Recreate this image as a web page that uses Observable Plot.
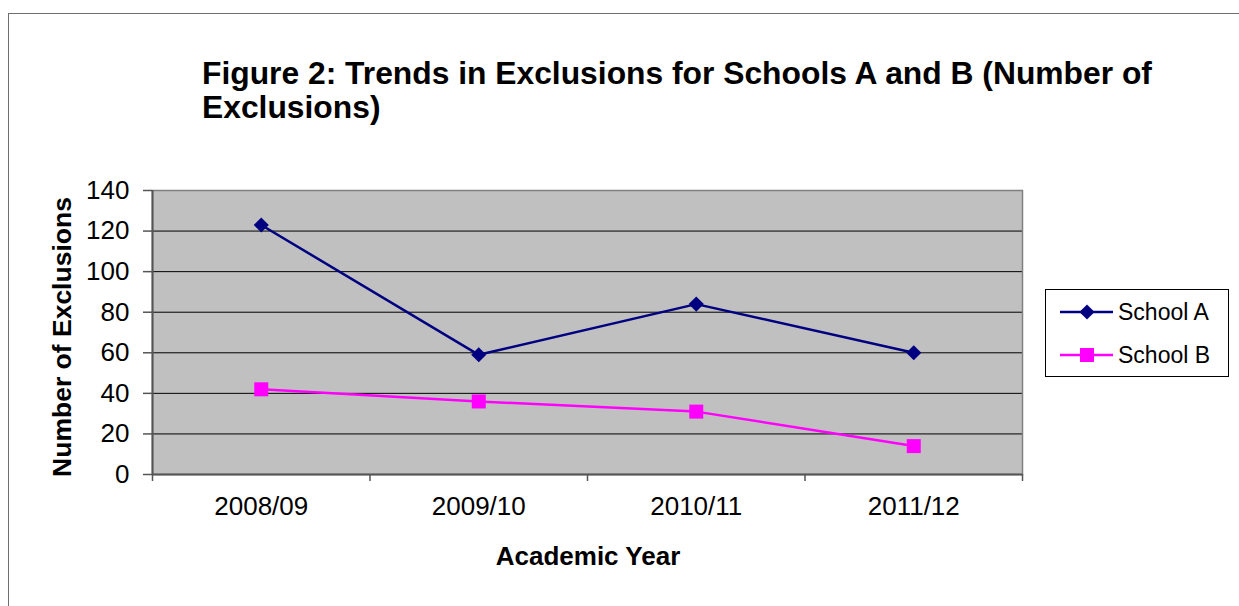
<!DOCTYPE html>
<html>
<head>
<meta charset="utf-8">
<script src="https://cdn.jsdelivr.net/npm/d3@7"></script>
<script src="https://cdn.jsdelivr.net/npm/@observablehq/plot@0.6"></script>
<style>
  html, body { margin:0; padding:0; background:#fff; overflow:hidden; width:1239px; height:606px; }
  body { position:relative; font-family:"Liberation Sans", Arial, sans-serif; color:#000; }
  #border { position:absolute; left:8px; top:13px; width:1400px; height:800px; border:1.5px solid #6e6e6e; box-sizing:border-box; }
  #chart { position:absolute; left:0; top:0; }
  #title { position:absolute; left:202px; top:56px; font-weight:bold; font-size:31.8px; line-height:34px; white-space:nowrap; }
  #ytitle { position:absolute; left:-88.5px; top:324px; width:300px; height:26px; line-height:26px; text-align:center; font-weight:bold; font-size:26.5px; white-space:nowrap; transform:rotate(-90deg); }
  #xtitle { position:absolute; left:388px; top:543px; width:400px; line-height:26px; text-align:center; font-weight:bold; font-size:26px; white-space:nowrap; }
  #legend { position:absolute; left:1045px; top:289px; }
</style>
</head>
<body>
<div id="border"></div>
<div id="chart"></div>
<div id="title"></div>
<div id="ytitle"></div>
<div id="xtitle"></div>
<div id="legend"></div>
<script>
// ---- data ----
const titleLines = ["Figure 2: Trends in Exclusions for Schools A and B (Number of", "Exclusions)"];
const yTitle = "Number of Exclusions";
const xTitle = "Academic Year";
const years = ["2008/09", "2009/10", "2010/11", "2011/12"];
const schoolA = [123, 59, 84, 60];
const schoolB = [42, 36, 31, 14];
const yTicks = [0, 20, 40, 60, 80, 100, 120, 140];
const series = ["School A", "School B"];
const colors = ["#000080", "#FF00FF"];
const symbols = ["diamond2", "square"];

// ---- table ----
const rowsA = years.map((y, i) => ({year: y, i, s: series[0], v: schoolA[i]}));
const rowsB = years.map((y, i) => ({year: y, i, s: series[1], v: schoolB[i]}));
const xc = d => d.i + 0.5;

const chart = Plot.plot({
  width: 1239,
  height: 606,
  marginLeft: 152,
  marginRight: 217,
  marginTop: 190,
  marginBottom: 132,
  style: {fontFamily: "'Liberation Sans', Arial, sans-serif", fontSize: "26px", color: "#000", background: "transparent", overflow: "visible"},
  x: {type: "linear", domain: [0, years.length]},
  y: {domain: [0, 140]},
  marks: [
    Plot.frame({fill: "#C0C0C0", stroke: "none"}),
    Plot.gridY(yTicks.filter(t => t > 0 && t < 140), {stroke: "#000", strokeOpacity: 1, strokeWidth: 1}),
    Plot.frame({stroke: "#808080", strokeWidth: 1.5}),
    Plot.ruleX([0], {stroke: "#555", strokeWidth: 2}),
    Plot.ruleY([0], {stroke: "#555", strokeWidth: 2}),
    Plot.axisY(yTicks, {tickSize: 9, tickPadding: 14, stroke: "#555", strokeWidth: 1.5, fill: "#000", fontSize: 26, label: null}),
    Plot.axisX(d3.range(years.length + 1), {tickSize: 7, tickFormat: () => "", stroke: "#555", strokeWidth: 1.5, label: null}),
    Plot.axisX(years.map((_, i) => i + 0.5), {tickSize: 0, tickPadding: 22, tickFormat: d => years[Math.round(d - 0.5)], fill: "#000", fontSize: 26, label: null}),
    Plot.line(rowsA, {x: xc, y: "v", stroke: colors[0], strokeWidth: 2.5}),
    Plot.line(rowsB, {x: xc, y: "v", stroke: colors[1], strokeWidth: 2.5}),
    Plot.dot(rowsA, {x: xc, y: "v", symbol: symbols[0], r: 6.8, fill: colors[0], stroke: "none"}),
    Plot.dot(rowsB, {x: xc, y: "v", symbol: symbols[1], r: 7.9, fill: colors[1], stroke: "none"})
  ]
});
document.getElementById("chart").appendChild(chart);

// ---- titles ----
const t = document.getElementById("title");
titleLines.forEach((line, k) => {
  if (k) t.appendChild(document.createElement("br"));
  t.appendChild(document.createTextNode(line));
});
document.getElementById("ytitle").textContent = yTitle;
document.getElementById("xtitle").textContent = xTitle;

// ---- legend ----
const lg = d3.select("#legend").append("svg").attr("width", 186).attr("height", 90);
lg.append("rect").attr("x", 0.5).attr("y", 0.5).attr("width", 183).attr("height", 87)
  .attr("fill", "#fff").attr("stroke", "#000").attr("stroke-width", 1);
const rowY = [23, 66];
const sizes = [6.8, 7.9];
series.forEach((name, k) => {
  const g = lg.append("g").attr("transform", `translate(0,${rowY[k]})`);
  g.append("line").attr("x1", 15).attr("x2", 68).attr("y1", 0).attr("y2", 0)
    .attr("stroke", colors[k]).attr("stroke-width", 2.5);
  const sym = k === 0 ? d3.symbolDiamond2 : d3.symbolSquare;
  g.append("path").attr("transform", "translate(42,0)")
    .attr("d", d3.symbol(sym, sizes[k] * sizes[k] * Math.PI)()).attr("fill", colors[k]);
  g.append("text").attr("x", 73).attr("y", 8.3).attr("font-size", 23)
    .attr("font-family", "'Liberation Sans', Arial, sans-serif").attr("fill", "#000").text(name);
});
</script>
</body>
</html>
